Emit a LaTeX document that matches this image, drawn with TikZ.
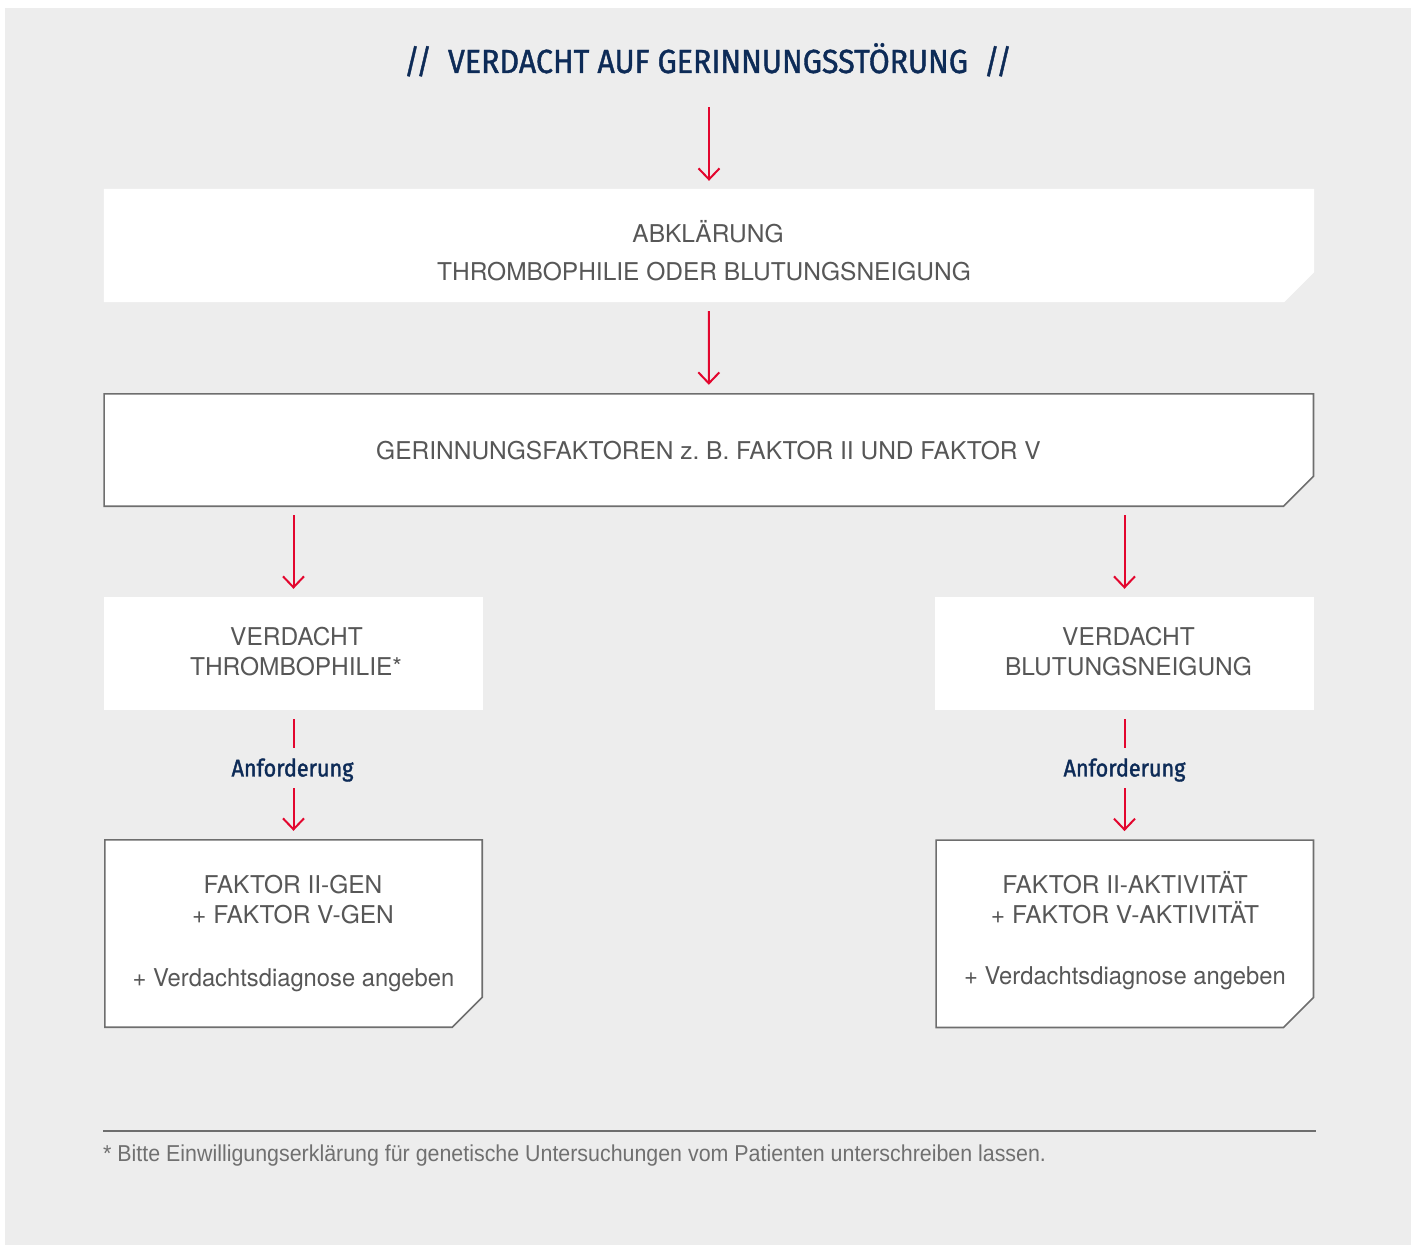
\documentclass[tikz,border=0pt]{standalone}
\usepackage{fontspec}
\setmainfont{TeX Gyre Heros}
\newfontfamily\lcfont[FakeStretch=0.97]{TeX Gyre Heros}
\newfontfamily\titlefont[FakeStretch=0.91,FakeBold=1.2]{Fira Sans}
\newfontfamily\anffont[FakeStretch=0.9,FakeBold=1.6]{Fira Sans}
\newfontfamily\footfont[FakeStretch=0.93]{Liberation Sans}
\usetikzlibrary{arrows.meta}
\definecolor{bggray}{HTML}{EDEDED}
\definecolor{navy}{HTML}{0D2B57}
\definecolor{arred}{HTML}{E3062E}
\definecolor{txtgray}{HTML}{575757}
\definecolor{brd}{HTML}{6E6E6E}
\definecolor{fngray}{HTML}{707070}
\begin{document}
\begin{tikzpicture}[x=1pt,y=-1pt,
  bt/.style={font=\fontsize{24.5}{30}\selectfont, text=txtgray, inner sep=0pt, anchor=base},
  btlc/.style={bt, font=\lcfont\fontsize{24.5}{30}\selectfont},
  shapebox/.style={inner sep=0pt, minimum width=#1},
  arr/.style={draw=arred, line width=2pt, -{Straight Barb[length=11pt,width=21pt,line width=2pt]}},
  redline/.style={draw=arred, line width=2pt},
  anf/.style={font=\anffont\fontsize{24}{28}\selectfont, text=navy, inner sep=0pt, minimum height=36pt},
  boxfill/.style={fill=white},
  boxline/.style={fill=white, draw=brd, line width=1.6pt, line join=miter}
]
\useasboundingbox (0,0) rectangle (1416,1247);
\fill[bggray] (5,8) rectangle (1411,1245);

% box shapes
\node[shapebox=1210pt, minimum height=113pt] (b1) at (709,245.5) {};
\node[shapebox=1209pt, minimum height=112pt] (b2) at (708.8,450) {};
\node[shapebox=379pt, minimum height=113pt] (b3L) at (293.5,653.5) {};
\node[shapebox=379pt, minimum height=113pt] (b3R) at (1124.5,653.5) {};
\node[shapebox=377pt, minimum height=187pt] (b4L) at (293.5,933.5) {};
\node[shapebox=377pt, minimum height=187pt] (b4R) at (1124.8,933.8) {};

\fill[boxfill] (b1.north west) -- (b1.north east) -- ([yshift=30pt]b1.south east) -- ([xshift=-30pt]b1.south east) -- (b1.south west) -- cycle;
\filldraw[boxline] (b2.north west) -- (b2.north east) -- ([yshift=30pt]b2.south east) -- ([xshift=-30pt]b2.south east) -- (b2.south west) -- cycle;
\fill[boxfill] (b3L.north west) rectangle (b3L.south east);
\fill[boxfill] (b3R.north west) rectangle (b3R.south east);
\filldraw[boxline] (b4L.north west) -- (b4L.north east) -- ([yshift=30pt]b4L.south east) -- ([xshift=-30pt]b4L.south east) -- (b4L.south west) -- cycle;
\filldraw[boxline] (b4R.north west) -- (b4R.north east) -- ([yshift=30pt]b4R.south east) -- ([xshift=-30pt]b4R.south east) -- (b4R.south west) -- cycle;

% title
\node[font=\titlefont\fontsize{33.4}{36}\selectfont, text=navy, inner sep=0pt, anchor=base] (title) at (708,73)
  {//\hspace{16pt}VERDACHT AUF GERINNUNGSSTÖRUNG\hspace{16pt}//};

% texts
\node[bt] (t1a) at (708,242.7) {ABKLÄRUNG};
\node[bt] (t1b) at (704,280.7) {THROMBOPHILIE ODER BLUTUNGSNEIGUNG};
\node[bt] (t2) at (708.5,459.5) {GERINNUNGSFAKTOREN z.\ B. FAKTOR II UND FAKTOR V};
\node[bt] (t3La) at (296.5,645) {VERDACHT};
\node[bt] (t3Lb) at (296,675) {THROMBOPHILIE*};
\node[bt] (t3Ra) at (1128.5,645) {VERDACHT};
\node[bt] (t3Rb) at (1128.5,675) {BLUTUNGSNEIGUNG};
\node[bt] (t4La) at (293,893) {FAKTOR II-GEN};
\node[bt] (t4Lb) at (293,923) {+ FAKTOR V-GEN};
\node[btlc] (t4Lc) at (293.5,986.5) {+ Verdachtsdiagnose angeben};
\node[bt] (t4Ra) at (1125,893.5) {FAKTOR II-AKTIVITÄT};
\node[bt] (t4Rb) at (1125,923) {+ FAKTOR V-AKTIVITÄT};
\node[btlc] (t4Rc) at (1125,984) {+ Verdachtsdiagnose angeben};

% Anforderung labels
\node[anf] (anfL) at (292.5,770) {Anforderung};
\node[anf] (anfR) at (1124.5,770) {Anforderung};

% arrows
\draw[arr, shorten <=34pt, shorten >=8pt] (b1.north |- title.base) -- (b1.north);
\draw[arr, shorten <=9pt, shorten >=9pt] (b1.south) -- (b2.north);
\draw[arr, shorten <=9pt, shorten >=8pt] (b3L.north |- b2.south) -- (b3L.north);
\draw[arr, shorten <=9pt, shorten >=8pt] (b3R.north |- b2.south) -- (b3R.north);
\draw[redline, shorten <=9pt, shorten >=4pt] (b3L.south) -- (b3L.south |- anfL.north);
\draw[redline, shorten <=9pt, shorten >=4pt] (b3R.south) -- (b3R.south |- anfR.north);
\draw[arr, shorten >=9pt] (b3L.south |- anfL.south) -- (b4L.north -| b3L.south);
\draw[arr, shorten >=9pt] (b3R.south |- anfR.south) -- (b4R.north -| b3R.south);

% footnote
\coordinate (ruleL) at (103,1131);
\coordinate (ruleR) at (1316,1131);
\draw[brd, line width=1.8pt] (ruleL) -- (ruleR);
\node[font=\footfont\fontsize{23}{26}\selectfont, text=fngray, inner sep=0pt, anchor=base west] (fn) at (103,1161.5)
  {* Bitte Einwilligungserklärung für genetische Untersuchungen vom Patienten unterschreiben lassen.};
\end{tikzpicture}
\end{document}
